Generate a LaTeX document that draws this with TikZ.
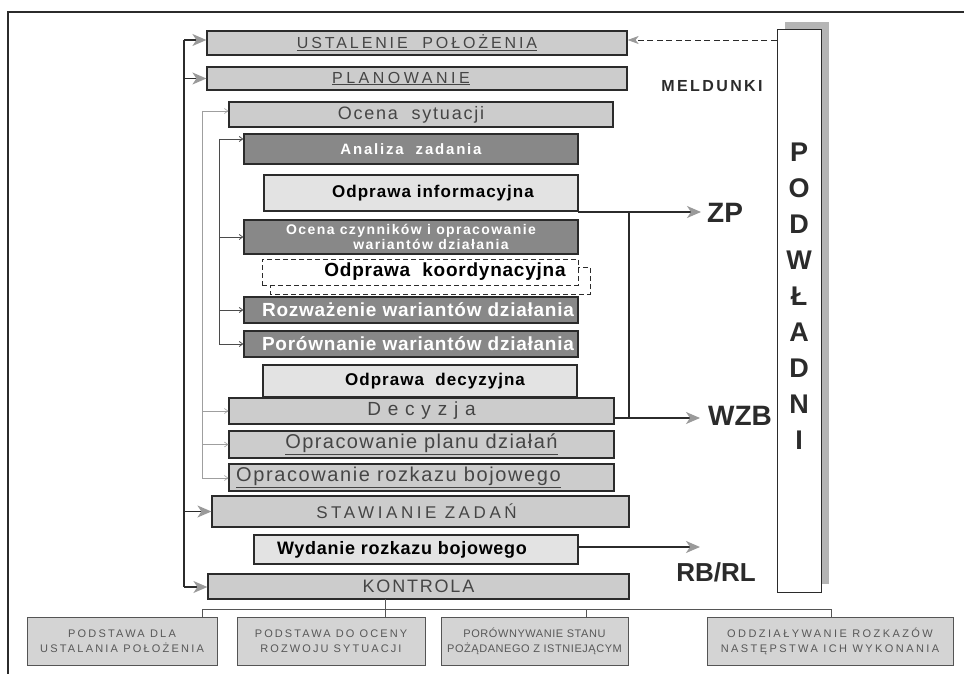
\documentclass[tikz,border=0pt]{standalone}
\usepackage{fontspec}
\setmainfont{Liberation Sans}
\usetikzlibrary{arrows.meta}

\definecolor{boxlight}{HTML}{CCCCCC}
\definecolor{boxdark}{HTML}{888888}
\definecolor{boxpale}{HTML}{E3E3E3}
\definecolor{edge}{HTML}{2B2B2B}
\definecolor{txtgray}{HTML}{454545}
\definecolor{tipgray}{HTML}{9A9A9A}
\definecolor{shadowgray}{HTML}{B5B5B5}

\newcommand\fsz[2]{\fontsize{#1}{#1}\selectfont\addfontfeature{LetterSpace=#2}}
\newcommand\nudge[1]{\hspace*{#1pt}}

\tikzset{
  panel/.style={draw=edge, line width=1.2pt, inner sep=0pt, align=center},
  lbox/.style={panel, fill=boxlight, text=txtgray},
  dbox/.style={panel, fill=boxdark, text=white, font=\bfseries},
  pbox/.style={panel, fill=boxpale, text=black, font=\bfseries},
  kbox/.style={panel, fill=white, text=black, font=\bfseries, line width=0.9pt,
               dash pattern=on 5pt off 3pt},
  foot/.style={draw=edge!80, line width=0.9pt, fill=boxlight!85, text=txtgray!90,
               inner sep=0pt, align=center, minimum height=48pt},
  trunk/.style={draw=edge, line width=1.5pt},
  bigarrow/.style={draw=edge, line width=1.5pt,
               -{Stealth[length=14pt, width=12pt, inset=4pt, color=tipgray]}},
  guideA/.style={draw=gray!75, line width=0.6pt},
  guideB/.style={draw=edge!85, line width=0.8pt},
  smallarrowA/.style={guideA, -{Straight Barb[length=3.5pt, width=5pt]}},
  smallarrowB/.style={guideB, -{Straight Barb[length=3.5pt, width=5pt]}},
  report/.style={draw=edge, line width=0.9pt, dash pattern=on 6pt off 3.5pt,
               -{Stealth[length=11pt, width=8pt, inset=3pt, color=tipgray]}},
  biglabel/.style={font=\bfseries, text=edge, inner sep=0pt},
  podletter/.style={font=\bfseries\fontsize{27}{27}\selectfont, text=edge, inner sep=0pt},
  bus/.style={draw=edge!80, line width=0.8pt}
}

\begin{document}
\begin{tikzpicture}[x=1pt, y=-1pt]
\useasboundingbox (0,0) rectangle (964,674);

% outer frame
\draw[edge, line width=1.2pt] (964,12) -- (8,12) -- (8,674);

% stacked process boxes
\node[lbox, minimum width=420pt, minimum height=24pt] (ust) at (417,43)
  {\fsz{16}{18}\underline{USTALENIE\ \ POŁOŻENIA}};
\node[lbox, minimum width=420pt, minimum height=23pt] (plan) at (417,78.5)
  {\nudge{-32}\fsz{16}{22}\underline{PLANOWANIE}};
\node[lbox, minimum width=384pt, minimum height=25pt] (ocena) at (421,114.5)
  {\nudge{-20}\fsz{18}{10}Ocena\ \ sytuacji};
\node[dbox, minimum width=334pt, minimum height=30pt] (analiza) at (411,149)
  {\fsz{15}{12}Analiza\ \ zadania};
\node[pbox, minimum width=314pt, minimum height=36pt] (oinf) at (421,193)
  {\nudge{24}\fsz{17}{6}Odprawa informacyjna};
\node[dbox, minimum width=334pt, minimum height=34pt] (czyn) at (411,237)
  {\fontsize{14}{13}\selectfont\addfontfeature{LetterSpace=10}Ocena czynników i opracowanie\\
   \nudge{40}\fontsize{14}{13}\selectfont\addfontfeature{LetterSpace=10}wariantów działania};
\draw[edge, line width=0.9pt, dash pattern=on 5pt off 3pt] (270,267) rectangle (590,294);
\node[kbox, minimum width=316pt, minimum height=26pt] (koord) at (420,272)
  {\nudge{50}\fsz{19}{4}Odprawa\ \ koordynacyjna};
\node[dbox, minimum width=334pt, minimum height=26pt] (rozw) at (411,310)
  {\nudge{14}\fsz{19}{4}Rozważenie wariantów działania};
\node[dbox, minimum width=334pt, minimum height=26pt] (poro) at (411,344)
  {\nudge{14}\fsz{19}{4}Porównanie wariantów działania};
\node[pbox, minimum width=314pt, minimum height=32pt] (odec) at (420,381)
  {\nudge{30}\fsz{17}{6}Odprawa\ \ decyzyjna};
\node[lbox, minimum width=385pt, minimum height=26pt] (decy) at (421.5,411)
  {\fsz{19}{8}D e c y z j a};
\node[lbox, minimum width=385pt, minimum height=27pt] (oplan) at (421.5,444.5)
  {\fsz{20}{7}\underline{Opracowanie planu działań}};
\node[lbox, minimum width=385pt, minimum height=27pt] (oroz) at (421.5,477.5)
  {\nudge{-46}\fsz{20}{8}\underline{Opracowanie rozkazu bojowego}};
\node[lbox, minimum width=417pt, minimum height=31pt] (staw) at (420.5,511.5)
  {\nudge{-8}\fsz{17}{21}STAWIANIE ZADAŃ};
\node[pbox, minimum width=324pt, minimum height=29pt] (wyd) at (416,549.5)
  {\nudge{-28}\fsz{18}{4}Wydanie rozkazu bojowego};
\node[lbox, minimum width=421pt, minimum height=25pt] (kont) at (418.5,586.5)
  {\fsz{18}{10}KONTROLA};

% main feedback trunk on the left
\coordinate (tk1) at (184,40);
\coordinate (tk2) at (184,587);
\draw[trunk] (tk1) -- (tk2);
\draw[bigarrow] (tk1) -- (tk1 -| ust.west);
\draw[bigarrow] (tk1 |- plan.west) -- (plan.west);
\draw[bigarrow] (tk1 |- staw.west) -- (staw.west);
\draw[bigarrow] (tk2) -- (tk2 -| kont.west);

% thin guide line feeding the planning steps
\coordinate (ga1) at (202,111);
\coordinate (ga2) at (202,478);
\draw[guideA] (ga1) -- (ga2);
\draw[smallarrowA] (ga1) -- (ga1 -| ocena.west);
\draw[smallarrowA] (ga1 |- decy.west) -- (decy.west);
\draw[smallarrowA] (ga1 |- oplan.west) -- (oplan.west);
\draw[smallarrowA] (ga2) -- (ga2 -| oroz.west);

% inner guide line feeding the analysis steps
\coordinate (gb1) at (219,139);
\coordinate (gb2) at (219,344);
\draw[guideB] (gb1) -- (gb2);
\draw[smallarrowB] (gb1) -- (gb1 -| analiza.west);
\draw[smallarrowB] (gb1 |- czyn.west) -- (czyn.west);
\draw[smallarrowB] (gb1 |- rozw.west) -- (rozw.west);
\draw[smallarrowB] (gb2) -- (gb2 -| poro.west);

% subordinates column
\fill[shadowgray] (785,22) rectangle (829,584);
\node[draw=edge, line width=1pt, fill=white, minimum width=44pt, minimum height=562pt,
      inner sep=0pt] (pod) at (799,311) {};
\foreach \ch [count=\i from 0] in {P,O,D,W,Ł,A,D,N,I}
  \node[podletter] (pl\i) at (799,{152+36*\i}) {\ch};

% reports flowing back
\node[biglabel, font=\bfseries\fontsize{16}{16}\selectfont\addfontfeature{LetterSpace=15}]
  (meld) at (712,86) {MELDUNKI};
\coordinate (mf) at (pod.west |- tk1);
\draw[report] (mf) -- (mf -| ust.east);

% outputs to the right
\node[biglabel, anchor=west, font=\bfseries\fontsize{28}{28}\selectfont] (zp) at (707,213) {ZP};
\node[biglabel, anchor=west, font=\bfseries\fontsize{28}{28}\selectfont] (wzb) at (708,416) {WZB};
\node[biglabel, font=\bfseries\fontsize{26}{26}\selectfont] (rbrl) at (716,572) {RB/RL};

\coordinate (zpa) at (578,212);
\coordinate (wza) at (614,418);
\coordinate (j1) at (629,212);
\coordinate (j2) at (629,418);
\coordinate (rba) at (578,547);
\draw[bigarrow, shorten >=6pt] (zpa) -- (zpa -| zp.west);
\draw[trunk] (j1) -- (j2);
\draw[bigarrow, shorten >=8pt] (wza) -- (wza -| wzb.west);
\draw[bigarrow] (rba) -- (700,547);

% control outcomes
\node[foot, minimum width=190pt] (b1) at (122,641)
  {\fsz{11}{20}PODSTAWA DLA\\[3pt]\fsz{11}{20}USTALANIA POŁOŻENIA};
\node[foot, minimum width=188pt] (b2) at (331,641)
  {\fsz{11}{19}PODSTAWA DO OCENY\\[3pt]\fsz{11}{19}ROZWOJU SYTUACJI};
\node[foot, minimum width=187pt] (b3) at (534.5,641)
  {\fsz{11}{5}PORÓWNYWANIE STANU\\[3pt]\fsz{11}{5}POŻĄDANEGO Z ISTNIEJĄCYM};
\node[foot, minimum width=246pt] (b4) at (830,641)
  {\fsz{11}{22}ODDZIAŁYWANIE ROZKAZÓW\\[3pt]\fsz{11}{22}NASTĘPSTWA ICH WYKONANIA};

\coordinate (kd) at (385,599);
\coordinate (bl) at (202,609);
\coordinate (bm) at (586,609);
\coordinate (br) at (831,609);
\draw[bus] (bl |- b1.north) -- (bl) -- (br) -- (br |- b4.north);
\draw[bus] (kd) -- (kd |- b2.north);
\draw[bus] (bm) -- (bm |- b3.north);
\end{tikzpicture}
\end{document}
